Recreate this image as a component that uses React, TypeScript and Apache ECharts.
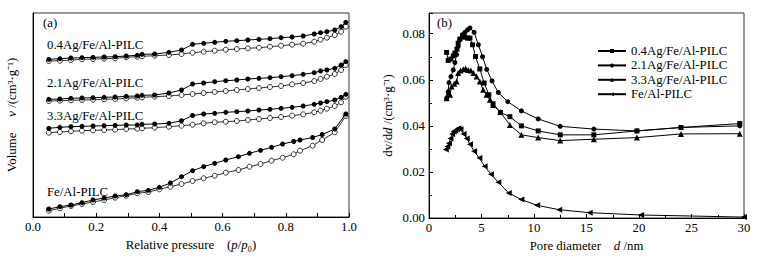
import React, { useEffect, useRef } from "react";
import * as echarts from "echarts";

// ---------- Panel (a): N2 isotherms (relative pressure vs. offset volume, arbitrary units)
const P_AG = [0.05, 0.085, 0.12, 0.155, 0.19, 0.225, 0.26, 0.295, 0.33, 0.345, 0.385, 0.43, 0.47, 0.505, 0.54, 0.575, 0.61, 0.645, 0.68, 0.715, 0.75, 0.785, 0.82, 0.855, 0.89, 0.91, 0.93, 0.955, 0.975, 0.99];
const P_FE = [0.05, 0.085, 0.12, 0.155, 0.19, 0.225, 0.26, 0.295, 0.33, 0.365, 0.4, 0.435, 0.47, 0.505, 0.54, 0.575, 0.61, 0.65, 0.685, 0.72, 0.755, 0.79, 0.825, 0.845, 0.885, 0.915, 0.955, 0.99];

const AG04_UPPER = [157.7, 158.3, 159, 159.3, 159.7, 160, 160.3, 161, 161.7, 162.7, 163, 164.7, 167, 172.7, 173.7, 174.7, 175.7, 176.3, 177, 177.7, 178.3, 179.3, 180, 181, 183, 184.3, 185.3, 187, 190.3, 194.7];
const AG04_LOWER = [156, 156.3, 157, 157.7, 158, 158.3, 158.7, 159.7, 160.3, 160.7, 161.3, 162, 163, 164.3, 165.3, 166.3, 167.3, 168, 168.7, 169.3, 170.3, 171.3, 172.3, 173.3, 175.3, 177.3, 179.3, 182, 185.3, 190.3];
const AG21_UPPER = [117.7, 118, 118.7, 119, 119.3, 119.7, 120, 120.7, 121, 121.7, 122, 124, 127, 133, 134, 135.3, 136.3, 137, 138, 138.7, 139.3, 140.3, 141.3, 142.7, 144.3, 146, 147, 148.7, 152, 155.3];
const AG21_LOWER = [116, 116.3, 116.7, 117, 117.3, 117.7, 118, 118.7, 119.3, 119.7, 120.3, 121, 122, 123, 124, 125, 126, 127, 128, 129, 130, 131, 132.7, 134, 136, 138, 140.3, 143, 147, 152];
const AG33_UPPER = [88.7, 89.7, 90.3, 90.7, 91, 91.3, 91.7, 92, 92, 92.7, 93, 93.7, 96.3, 101.5, 103, 103.7, 104.7, 105.3, 106, 107, 107.7, 108.7, 109.7, 111, 112.7, 114, 115.3, 117, 119.7, 122.7];
const AG33_LOWER = [84.3, 85, 85.7, 86.3, 86.7, 87, 87.3, 88, 88.3, 88.7, 89.3, 90.3, 91.3, 92.3, 93.7, 94.7, 95.3, 96, 97, 98, 99, 100, 101.3, 102.7, 104.7, 106.3, 108.3, 111, 114.7, 120.3];
const FE_UPPER = [8, 10.3, 12, 14.3, 17, 19, 21, 22.3, 25.3, 26.7, 29.7, 34, 40.3, 46.3, 50.3, 53.7, 57, 60.3, 63.7, 66.7, 69.7, 73, 75.5, 77, 79.5, 82.5, 88, 103];
const FE_LOWER = [6.3, 8.7, 11, 13, 15, 17, 19.3, 21.3, 23.7, 25, 27.7, 30.3, 33, 36, 38.7, 41.3, 44.3, 47, 50.3, 53, 56.3, 59.3, 62.7, 66.3, 71.3, 77, 84.7, 101];

const SAMPLE_NAMES = ["0.4Ag/Fe/Al-PILC", "2.1Ag/Fe/Al-PILC", "3.3Ag/Fe/Al-PILC", "Fe/Al-PILC"];

// ---------- Panel (b): pore size distributions
const D_AG04 = [1.68, 1.83, 2.09, 2.31, 2.47, 2.66, 2.78, 2.94, 3.2, 3.42, 3.67, 3.9, 4.15, 4.43, 4.84, 5.25, 5.7, 6.1, 6.8, 7.7, 8.8, 10.4, 12.5, 15.7, 19.8, 24, 29.6];
const V_AG04 = [0.0719, 0.0684, 0.069, 0.0704, 0.0716, 0.0733, 0.0759, 0.0777, 0.0786, 0.0786, 0.0781, 0.0781, 0.0752, 0.0701, 0.0647, 0.0586, 0.0535, 0.0496, 0.0458, 0.044, 0.04, 0.0378, 0.0361, 0.0361, 0.0378, 0.0393, 0.041];
const D_AG21 = [1.68, 1.83, 1.9, 2.09, 2.31, 2.47, 2.63, 2.78, 2.94, 3.17, 3.42, 3.67, 3.9, 4.3, 4.7, 5.1, 5.5, 6.0, 6.6, 7.5, 8.8, 10.4, 12.5, 15.7, 19.8, 24, 29.6];
const V_AG21 = [0.052, 0.0549, 0.0588, 0.0614, 0.0643, 0.0675, 0.0709, 0.0745, 0.0774, 0.0796, 0.0806, 0.0817, 0.0825, 0.0806, 0.0752, 0.07, 0.0645, 0.0595, 0.0545, 0.0505, 0.0465, 0.043, 0.0398, 0.0386, 0.0378, 0.0393, 0.04];
const D_AG33 = [1.68, 1.85, 2.0, 2.15, 2.4, 2.63, 2.78, 3.0, 3.26, 3.48, 3.73, 3.99, 4.24, 4.53, 4.84, 5.16, 5.48, 5.8, 6.1, 6.8, 7.7, 8.8, 10.4, 12.5, 15.7, 19.8, 24, 29.6];
const V_AG33 = [0.052, 0.0545, 0.0535, 0.0571, 0.0583, 0.0593, 0.0629, 0.064, 0.0646, 0.0649, 0.0643, 0.064, 0.0629, 0.0614, 0.0593, 0.0557, 0.0535, 0.0513, 0.0491, 0.046, 0.0404, 0.0361, 0.0349, 0.0336, 0.0342, 0.0349, 0.0365, 0.0366];
const D_FE = [1.6, 1.75, 1.9, 2.05, 2.2, 2.35, 2.5, 2.65, 2.8, 3.0, 3.3, 3.6, 3.9, 4.3, 4.8, 5.3, 5.9, 6.6, 7.6, 8.8, 10.3, 12.4, 15.3, 20.2, 30];
const V_FE = [0.0297, 0.031, 0.0325, 0.0345, 0.0365, 0.0375, 0.038, 0.0385, 0.039, 0.0385, 0.0365, 0.0345, 0.032, 0.029, 0.026, 0.0225, 0.019, 0.0155, 0.0108, 0.008, 0.0055, 0.0036, 0.0023, 0.0013, 0.0004];

const FONT = "'Liberation Serif', 'Times New Roman', serif";
const FS = 12.8;
const zip = (xs: number[], ys: number[]) => xs.map((x, i) => [x, ys[i]]);
const LEFT_TRI = "path://M0,5L10,0L10,10Z";

function isoSeries(name: string, xs: number[], ys: number[], filled: boolean) {
  return {
    type: "line",
    name,
    xAxisIndex: 0,
    yAxisIndex: 0,
    data: zip(xs, ys),
    symbol: "circle",
    symbolSize: 5,
    lineStyle: { color: "#000", width: filled ? 1 : 0.8 },
    itemStyle: filled
      ? { color: "#000", borderColor: "#000", borderWidth: 0 }
      : { color: "#fff", borderColor: "#000", borderWidth: 0.8 },
    z: filled ? 3 : 2,
    silent: true,
  };
}

function psdSeries(name: string, xs: number[], ys: number[], symbol: string, size: number) {
  return {
    type: "line",
    name,
    xAxisIndex: 1,
    yAxisIndex: 1,
    data: zip(xs, ys),
    symbol,
    symbolSize: size,
    lineStyle: { color: "#000", width: 1 },
    itemStyle: { color: "#000" },
  };
}

export default function App() {
  const ref = useRef<HTMLDivElement>(null);
  useEffect(() => {
    if (!ref.current) return;
    const chart = echarts.init(ref.current, undefined, { renderer: "svg" });
    const txt = { color: "#000", fontFamily: FONT, fontSize: FS };
    const label = (text: string, x: number, y: number) => ({
      type: "text",
      x,
      y,
      style: { text, fill: "#000", font: `${FS}px ${FONT}`, align: "left", verticalAlign: "middle" },
    });
    chart.setOption({
      animation: false,
      backgroundColor: "#fff",
      textStyle: { fontFamily: FONT },
      grid: [
        { left: 33, right: 410, top: 13, bottom: 43, show: true, borderColor: "#333", borderWidth: 1 },
        { left: 429, right: 15, top: 13, bottom: 42, show: true, borderColor: "#333", borderWidth: 1 },
      ],
      xAxis: [
        {
          gridIndex: 0, type: "value", min: 0, max: 1, interval: 0.2,
          axisLine: { lineStyle: { color: "#000", width: 1 } },
          axisTick: { inside: true, length: 4, lineStyle: { color: "#000" } },
          minorTick: { show: true, splitNumber: 2, length: 4, lineStyle: { color: "#000" } },
          splitLine: { show: false },
          axisLabel: { ...txt, margin: 3, formatter: (v: number) => v.toFixed(1) },
          name: "Relative pressure    ({i|p}/{i|p}₀)",
          nameLocation: "middle", nameGap: 21,
          nameTextStyle: { ...txt, rich: { i: { ...txt, fontStyle: "italic" } } },
        },
        {
          gridIndex: 1, type: "value", min: 0, max: 30, interval: 5,
          axisLine: { lineStyle: { color: "#000", width: 1 } },
          axisTick: { inside: true, length: 4, lineStyle: { color: "#000" } },
          minorTick: { show: true, splitNumber: 2, length: 3, lineStyle: { color: "#000" } },
          splitLine: { show: false },
          axisLabel: { ...txt, margin: 3 },
          name: "Pore diameter    {i|d} /nm",
          nameLocation: "middle", nameGap: 21,
          nameTextStyle: { ...txt, rich: { i: { ...txt, fontStyle: "italic" } } },
        },
      ],
      yAxis: [
        {
          gridIndex: 0, type: "value", min: 0, max: 204,
          axisLine: { show: true, lineStyle: { color: "#000", width: 1 } },
          axisTick: { show: false },
          axisLabel: { show: false },
          splitLine: { show: false },
          name: "Volume     {i|v} /(cm³·g⁻¹)",
          nameLocation: "middle", nameGap: 15,
          nameTextStyle: { ...txt, rich: { i: { ...txt, fontStyle: "italic" } } },
        },
        {
          gridIndex: 1, type: "value", min: 0, max: 0.089, interval: 0.02,
          axisLine: { show: true, lineStyle: { color: "#000", width: 1 } },
          axisTick: { inside: true, length: 4, lineStyle: { color: "#000" } },
          minorTick: { show: true, splitNumber: 2, length: 3, lineStyle: { color: "#000" } },
          splitLine: { show: false },
          axisLabel: { ...txt, margin: 4, showMaxLabel: false, formatter: (v: number) => v.toFixed(2) },
          name: "dv/d{i|d} /(cm³·g⁻¹)",
          nameLocation: "middle", nameGap: 35,
          nameTextStyle: { ...txt, rich: { i: { ...txt, fontStyle: "italic" } } },
        },
      ],
      legend: {
        data: SAMPLE_NAMES,
        orient: "vertical",
        left: 592,
        top: 39,
        itemWidth: 28,
        itemHeight: 5,
        itemGap: 0.4,
        textStyle: { ...txt, lineHeight: 14 },
      },
      graphic: [
        label("(a)", 43, 23),
        label("(b)", 437, 23),
        label(SAMPLE_NAMES[0], 47, 44.5),
        label(SAMPLE_NAMES[1], 47, 83),
        label(SAMPLE_NAMES[2], 47, 116),
        label(SAMPLE_NAMES[3], 47, 191.5),
      ],
      series: [
        isoSeries("a-0.4-lower", P_AG, AG04_LOWER, false),
        isoSeries("a-0.4-upper", P_AG, AG04_UPPER, true),
        isoSeries("a-2.1-lower", P_AG, AG21_LOWER, false),
        isoSeries("a-2.1-upper", P_AG, AG21_UPPER, true),
        isoSeries("a-3.3-lower", P_AG, AG33_LOWER, false),
        isoSeries("a-3.3-upper", P_AG, AG33_UPPER, true),
        isoSeries("a-fe-lower", P_FE, FE_LOWER, false),
        isoSeries("a-fe-upper", P_FE, FE_UPPER, true),
        psdSeries(SAMPLE_NAMES[0], D_AG04, V_AG04, "rect", 5),
        psdSeries(SAMPLE_NAMES[1], D_AG21, V_AG21, "circle", 5),
        psdSeries(SAMPLE_NAMES[2], D_AG33, V_AG33, "triangle", 6),
        psdSeries(SAMPLE_NAMES[3], D_FE, V_FE, LEFT_TRI, 6),
      ],
    });
    return () => chart.dispose();
  }, []);
  return (
    <div
      ref={ref}
      style={{ position: "fixed", left: 0, top: 0, width: 759, height: 260, background: "#fff" }}
    />
  );
}
